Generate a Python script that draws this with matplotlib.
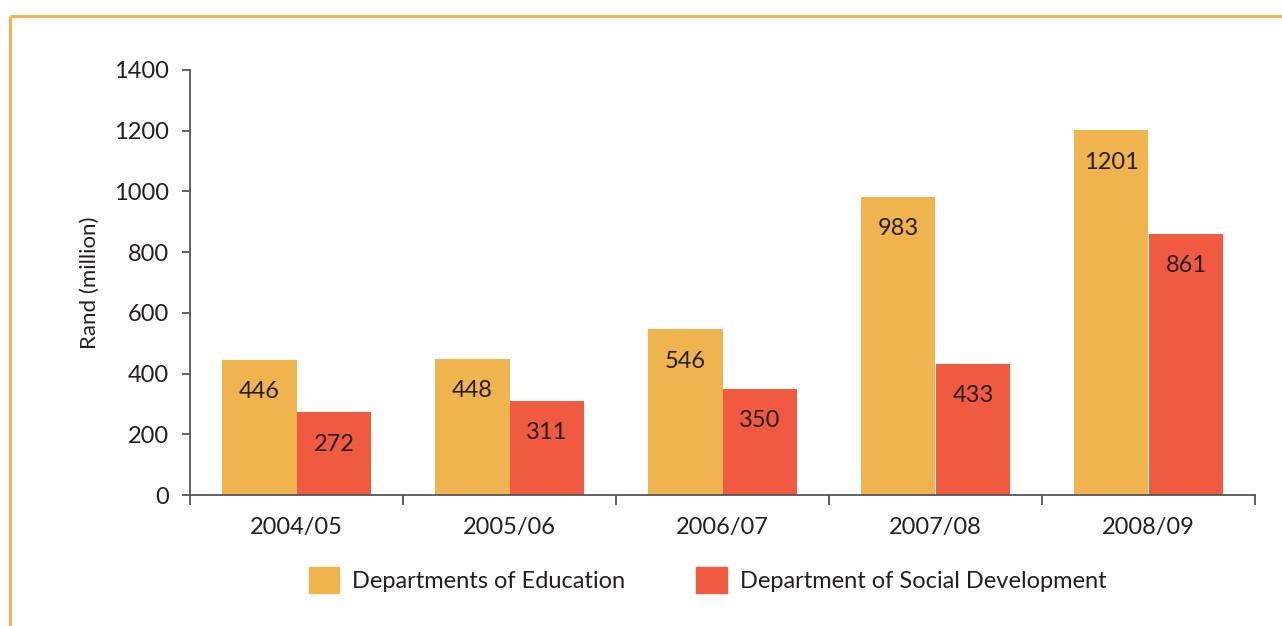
import numpy as np
import matplotlib
matplotlib.use("Agg")
import matplotlib.pyplot as plt
from matplotlib.lines import Line2D
from matplotlib.patches import Patch

years = ["2004/05", "2005/06", "2006/07", "2007/08", "2008/09"]
education = [446, 448, 546, 983, 1201]
social_dev = [272, 311, 350, 433, 861]
series_names = ["Departments of Education", "Department of Social Development"]

col_edu = "#F0B44E"
col_soc = "#F05A40"
txt = "#231F20"

plt.rcParams['font.family'] = ['Lato', 'DejaVu Sans']

fig = plt.figure(figsize=(12.82, 6.26), dpi=100)
ax = fig.add_axes([190/1282, 1-495/626, 1065/1282, 425/626])

x = np.arange(len(years))
w = 0.352
b1 = ax.bar(x - w/2, education, w, color=col_edu, linewidth=0, label=series_names[0])
b2 = ax.bar(x + w/2, social_dev, w, color=col_soc, linewidth=0, label=series_names[1])

for bars, vals in [(b1, education), (b2, social_dev)]:
    for r, v in zip(bars, vals):
        ax.annotate(str(v), (r.get_x() + r.get_width()/2, v), xytext=(0, -23),
                    textcoords="offset points", ha="center", va="center",
                    fontsize=17, color=txt)

ax.set_xlim(-0.5, len(years) - 0.5)
ax.set_ylim(0, 1400)
ax.set_yticks(range(0, 1401, 200))
ax.set_xticks(x)
ax.set_xticklabels(years)
ax.set_xticks(np.arange(-0.5, len(years)), minor=True)
ax.tick_params(axis="x", which="major", length=0, pad=16, labelsize=17, labelcolor=txt)
ax.tick_params(axis="x", which="minor", length=7, width=1.3, color="#555555", direction="out")
ax.tick_params(axis="y", length=6, width=1.3, color="#555555", pad=9, labelsize=17, labelcolor=txt)

for s in ["top", "right"]:
    ax.spines[s].set_visible(False)
for s in ["left", "bottom"]:
    ax.spines[s].set_color("#555555")
    ax.spines[s].set_linewidth(1.3)

ax.set_ylabel("Rand (million)", fontsize=16, color=txt, labelpad=10)

handles = [Patch(color=col_edu), Patch(color=col_soc)]
fig.legend(handles, series_names, loc="center", bbox_to_anchor=(0.552, 1-580/626),
           ncol=2, frameon=False, fontsize=17, handlelength=1.3, handleheight=1.3,
           handletextpad=0.55, columnspacing=3.0, labelcolor=txt)

# orange frame (top and left edge)
border = "#F5B54E"
fig.add_artist(Line2D([9.5/1282, 1.0], [1-16/626, 1-16/626], color=border, lw=2.2,
                      transform=fig.transFigure, solid_capstyle="butt"))
fig.add_artist(Line2D([9.5/1282, 9.5/1282], [0, 1-16/626], color=border, lw=2.2,
                      transform=fig.transFigure, solid_capstyle="butt"))

fig.savefig("out.png", dpi=100)
